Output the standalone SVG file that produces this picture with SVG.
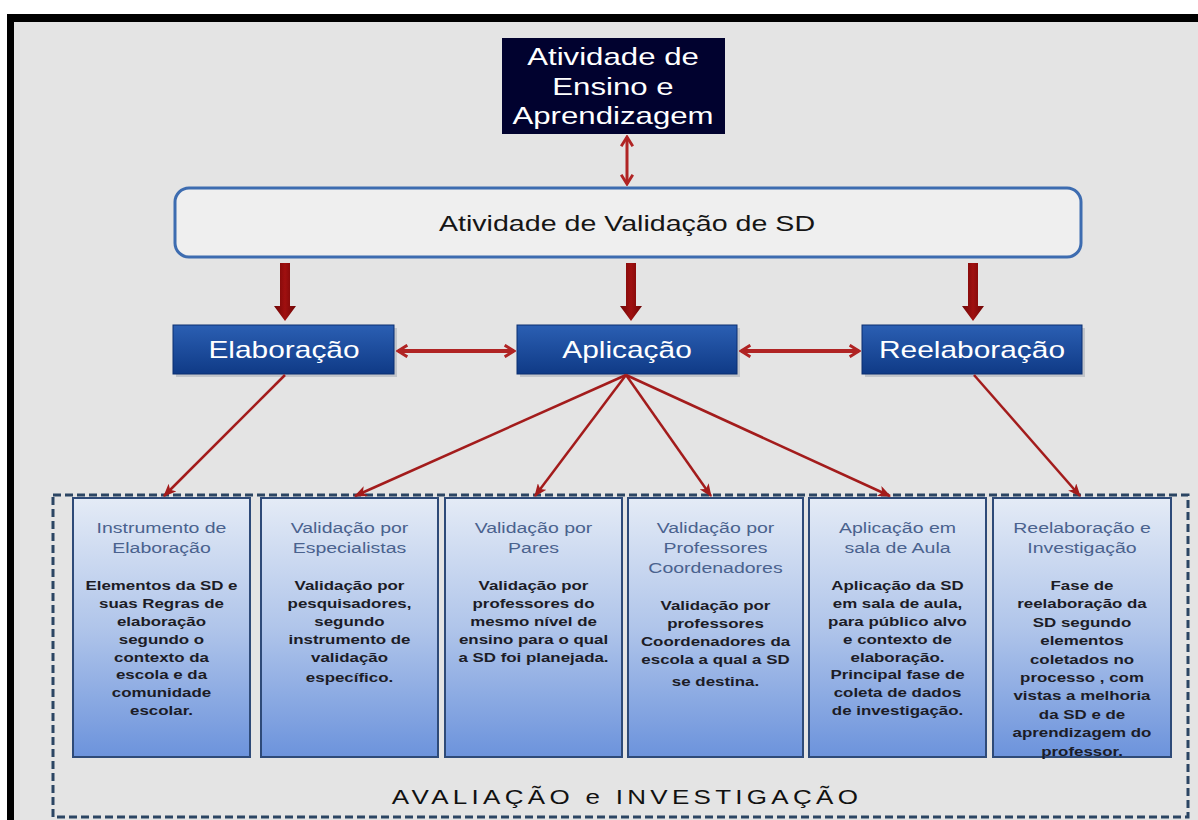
<svg xmlns="http://www.w3.org/2000/svg" width="1198" height="820" viewBox="0 0 1198 820">
<defs>
<style>
text{font-family:"Liberation Sans",Arial,sans-serif;text-anchor:middle}
.t-top{font-size:24px;fill:#ffffff}
.t-main{font-size:22px;fill:#151515}
.t-blue{font-size:23px;fill:#ffffff}
.t-title{font-size:15px;fill:#4a628e}
.t-body{font-size:13px;font-weight:bold;fill:#1c1c26}
.t-foot{font-size:20px;fill:#111111;letter-spacing:3.3px}
.blue{fill:url(#gBlue);stroke:#0b2f70;stroke-width:1}
.small{fill:url(#gSmall);stroke:#2e4a78;stroke-width:2}
.shadow{fill:#9aa0aa;opacity:0.45}
.thin{stroke:#a31c1c;stroke-width:2.5;fill:none;marker-end:url(#mHead)}
.dbl{stroke:#b02424;stroke-width:4;fill:none;marker-start:url(#mOpenS);marker-end:url(#mOpen)}
.dblv{stroke:#b02424;stroke-width:3;fill:none;marker-start:url(#mOpenS);marker-end:url(#mOpen)}
.thick{fill:url(#gRed)}
</style>
<linearGradient id="gBlue" x1="0" y1="0" x2="0" y2="1">
<stop offset="0" stop-color="#2b5fb3"/>
<stop offset="1" stop-color="#0f3a86"/>
</linearGradient>
<linearGradient id="gSmall" x1="0" y1="0" x2="0" y2="1">
<stop offset="0" stop-color="#e4ebf6"/>
<stop offset="0.5" stop-color="#b0c5ea"/>
<stop offset="1" stop-color="#6c93dc"/>
</linearGradient>
<linearGradient id="gRed" x1="0" y1="0" x2="1" y2="0">
<stop offset="0" stop-color="#6e0606"/>
<stop offset="0.5" stop-color="#a01010"/>
<stop offset="1" stop-color="#6e0606"/>
</linearGradient>
<marker id="mHead" viewBox="0 0 12 10" refX="11" refY="5" markerWidth="13" markerHeight="11" markerUnits="userSpaceOnUse" orient="auto">
<path d="M0,0 L12,5 L0,10 L3,5 z" fill="#a31c1c"/>
</marker>
<marker id="mOpen" viewBox="0 0 12 12" refX="10" refY="6" markerWidth="14" markerHeight="14" markerUnits="userSpaceOnUse" orient="auto">
<path d="M2,1 L10,6 L2,11" fill="none" stroke="#b02424" stroke-width="2.5"/>
</marker>
<marker id="mOpenS" viewBox="0 0 12 12" refX="2" refY="6" markerWidth="14" markerHeight="14" markerUnits="userSpaceOnUse" orient="auto">
<path d="M10,1 L2,6 L10,11" fill="none" stroke="#b02424" stroke-width="2.5"/>
</marker>
</defs>

<g id="frame">
<rect x="0" y="0" width="1198" height="820" fill="#ffffff"/>
<rect x="14" y="22" width="1184" height="798" fill="#e4e4e4"/>
<rect x="7" y="14" width="1191" height="8" fill="#000000"/>
<rect x="7" y="14" width="7" height="806" fill="#000000"/>
</g>

<g id="avaliacao-investigacao">
<rect x="53" y="495" width="1135" height="322" fill="none" stroke="#2b4563" stroke-width="3" stroke-dasharray="8 4"/>
<text class="t-foot" transform="translate(627,804) scale(1.3,1)">AVALIAÇÃO e INVESTIGAÇÃO</text>
</g>

<g id="atividade-ensino">
<rect x="502" y="38" width="223" height="96" fill="#01022f"/>
<text class="t-top" transform="translate(613,65) scale(1.3,1)"><tspan x="0" dy="0">Atividade de</tspan><tspan x="0" dy="30">Ensino e</tspan><tspan x="0" dy="29">Aprendizagem</tspan></text>
</g>

<g id="atividade-validacao">
<rect x="175" y="188" width="906" height="69" rx="14" fill="#efefef" stroke="#3d6cb0" stroke-width="3"/>
<text class="t-main" transform="translate(627,231) scale(1.3,1)">Atividade de Validação de SD</text>
</g>

<g id="elaboracao">
<rect x="176" y="328" width="221" height="49" class="shadow"/>
<rect x="173" y="325" width="221" height="49" class="blue"/>
<text class="t-blue" transform="translate(284,358) scale(1.3,1)">Elaboração</text>
</g>

<g id="aplicacao">
<rect x="520" y="328" width="220" height="49" class="shadow"/>
<rect x="517" y="325" width="220" height="49" class="blue"/>
<text class="t-blue" transform="translate(627,358) scale(1.3,1)">Aplicação</text>
</g>

<g id="reelaboracao">
<rect x="865" y="328" width="220" height="49" class="shadow"/>
<rect x="862" y="325" width="220" height="49" class="blue"/>
<text class="t-blue" transform="translate(972,358) scale(1.3,1)">Reelaboração</text>
</g>

<g id="instrumento-elaboracao">
<rect x="73" y="498" width="177" height="259" class="small"/>
<text class="t-title" transform="translate(161.5,533) scale(1.3,1)"><tspan x="0" dy="0">Instrumento de</tspan><tspan x="0" dy="20">Elaboração</tspan></text>
<text class="t-body" transform="translate(161.5,590) scale(1.3,1)"><tspan x="0" dy="0">Elementos da SD e</tspan><tspan x="0" dy="17.9">suas Regras de</tspan><tspan x="0" dy="17.9">elaboração</tspan><tspan x="0" dy="17.9">segundo o</tspan><tspan x="0" dy="17.9">contexto da</tspan><tspan x="0" dy="17.9">escola e da</tspan><tspan x="0" dy="17.9">comunidade</tspan><tspan x="0" dy="17.9">escolar.</tspan></text>
</g>

<g id="validacao-especialistas">
<rect x="261" y="498" width="177" height="259" class="small"/>
<text class="t-title" transform="translate(349.5,533) scale(1.3,1)"><tspan x="0" dy="0">Validação por</tspan><tspan x="0" dy="20">Especialistas</tspan></text>
<text class="t-body" transform="translate(349.5,590) scale(1.3,1)"><tspan x="0" dy="0">Validação por</tspan><tspan x="0" dy="17.9">pesquisadores,</tspan><tspan x="0" dy="17.9">segundo</tspan><tspan x="0" dy="17.9">instrumento de</tspan><tspan x="0" dy="17.9">validação</tspan><tspan x="0" dy="20">específico.</tspan></text>
</g>

<g id="validacao-pares">
<rect x="445" y="498" width="177" height="259" class="small"/>
<text class="t-title" transform="translate(533.5,533) scale(1.3,1)"><tspan x="0" dy="0">Validação por</tspan><tspan x="0" dy="20">Pares</tspan></text>
<text class="t-body" transform="translate(533.5,590) scale(1.3,1)"><tspan x="0" dy="0">Validação por</tspan><tspan x="0" dy="17.9">professores do</tspan><tspan x="0" dy="17.9">mesmo nível de</tspan><tspan x="0" dy="17.9">ensino para o qual</tspan><tspan x="0" dy="17.9">a SD foi planejada.</tspan></text>
</g>

<g id="validacao-coordenadores">
<rect x="628" y="498" width="175" height="259" class="small"/>
<text class="t-title" transform="translate(715.5,533) scale(1.3,1)"><tspan x="0" dy="0">Validação por</tspan><tspan x="0" dy="20">Professores</tspan><tspan x="0" dy="20">Coordenadores</tspan></text>
<text class="t-body" transform="translate(715.5,610) scale(1.3,1)"><tspan x="0" dy="0">Validação por</tspan><tspan x="0" dy="18">professores</tspan><tspan x="0" dy="18">Coordenadores da</tspan><tspan x="0" dy="18">escola a qual a SD</tspan><tspan x="0" dy="22">se destina.</tspan></text>
</g>

<g id="aplicacao-sala">
<rect x="809" y="498" width="177" height="259" class="small"/>
<text class="t-title" transform="translate(897.5,533) scale(1.3,1)"><tspan x="0" dy="0">Aplicação em</tspan><tspan x="0" dy="20">sala de  Aula</tspan></text>
<text class="t-body" transform="translate(897.5,590) scale(1.3,1)"><tspan x="0" dy="0">Aplicação da SD</tspan><tspan x="0" dy="17.9">em sala de aula,</tspan><tspan x="0" dy="17.9">para público alvo</tspan><tspan x="0" dy="17.9">e contexto de</tspan><tspan x="0" dy="17.9">elaboração.</tspan><tspan x="0" dy="17.9">Principal fase de</tspan><tspan x="0" dy="17.9">coleta de  dados</tspan><tspan x="0" dy="17.9">de investigação.</tspan></text>
</g>

<g id="reelaboracao-investigacao">
<rect x="993" y="498" width="178" height="259" class="small"/>
<text class="t-title" transform="translate(1082,533) scale(1.3,1)"><tspan x="0" dy="0">Reelaboração e</tspan><tspan x="0" dy="20">Investigação</tspan></text>
<text class="t-body" transform="translate(1082,590) scale(1.3,1)"><tspan x="0" dy="0">Fase de</tspan><tspan x="0" dy="18.4">reelaboração da</tspan><tspan x="0" dy="18.4">SD segundo</tspan><tspan x="0" dy="18.4">elementos</tspan><tspan x="0" dy="18.4">coletados no</tspan><tspan x="0" dy="18.4">processo , com</tspan><tspan x="0" dy="18.4">vistas a melhoria</tspan><tspan x="0" dy="18.4">da SD e de</tspan><tspan x="0" dy="18.4">aprendizagem do</tspan><tspan x="0" dy="18.4">professor.</tspan></text>
</g>

<g id="connectors">
<line x1="627" y1="137" x2="627" y2="184" class="dblv"/>
<polygon class="thick" points="280,263 290,263 290,306 296,306 285,321 274,306 280,306"/>
<polygon class="thick" points="626,263 636,263 636,306 642,306 631,321 620,306 626,306"/>
<polygon class="thick" points="968,263 978,263 978,306 984,306 973,321 962,306 968,306"/>
<line x1="398" y1="351" x2="514" y2="351" class="dbl"/>
<line x1="741" y1="351" x2="859" y2="351" class="dbl"/>
<line x1="285" y1="375" x2="164" y2="496" class="thin"/>
<line x1="626" y1="375" x2="355" y2="496" class="thin"/>
<line x1="626" y1="375" x2="535" y2="496" class="thin"/>
<line x1="626" y1="375" x2="711" y2="496" class="thin"/>
<line x1="626" y1="375" x2="890" y2="496" class="thin"/>
<line x1="974" y1="375" x2="1080" y2="496" class="thin"/>
</g>
</svg>
